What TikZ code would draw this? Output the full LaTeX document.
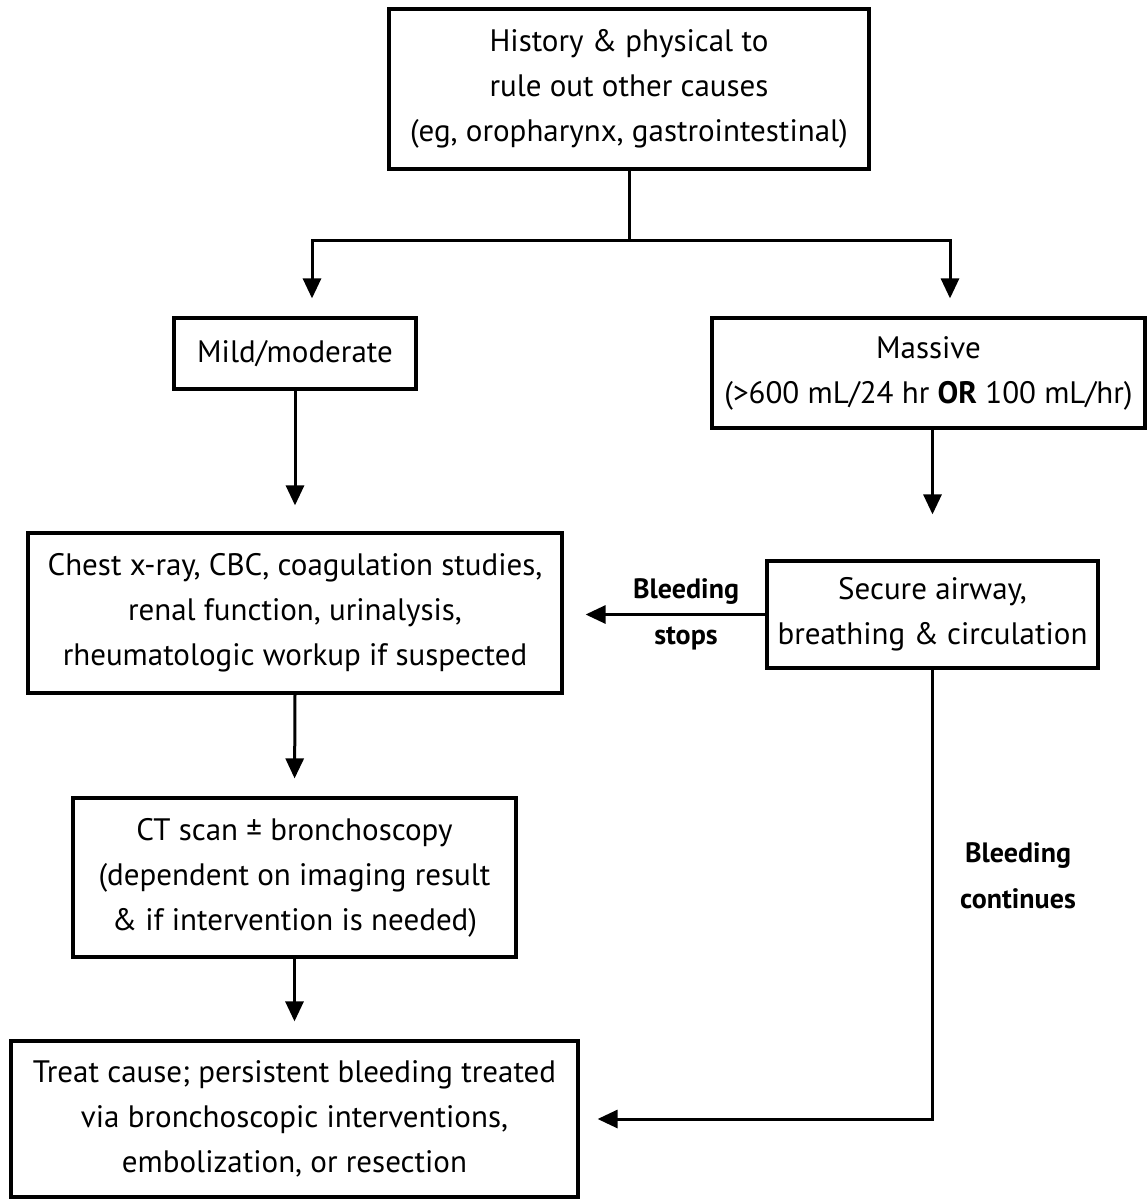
\documentclass[tikz,border=0pt]{standalone}
\usepackage{fontspec}
\setmainfont{PT Sans}
\usetikzlibrary{arrows.meta,calc}
\begin{document}
\begin{tikzpicture}[x=1pt,y=-1pt,
  box/.style={draw=black,line width=3.2pt,rectangle,align=center,inner sep=0pt,
    font=\fontsize{31}{45}\selectfont},
  arr/.style={line width=3pt,-{Triangle[length=20pt,width=18pt]}},
  ln/.style={line width=3pt},
  lbl/.style={align=center,inner sep=0pt,font=\bfseries\fontsize{28}{46}\selectfont}]
\useasboundingbox[fill=white] (0,0) rectangle (1147,1199);
\node[box,minimum width=480pt,minimum height=160pt] (top) at (629,89)
  {History \& physical to\\rule out other causes\\(eg, oropharynx, gastrointestinal)};
\node[box,minimum width=242pt,minimum height=71pt] (mild) at (295,353.5) {Mild/moderate};
\node[box,minimum width=433pt,minimum height=110pt] (massive) at (928.5,373)
  {Massive\\(>600 mL/24 hr \textbf{OR} 100 mL/hr)};
\node[box,minimum width=534pt,minimum height=160pt] (chest) at (295,613)
  {Chest x-ray, CBC, coagulation studies,\\renal function, urinalysis,\\rheumatologic workup if suspected};
\node[box,minimum width=331pt,minimum height=107pt] (secure) at (932.5,614.5)
  {Secure airway,\\breathing \& circulation};
\node[box,minimum width=443pt,minimum height=159pt] (ct) at (294.5,877.5)
  {CT scan ± bronchoscopy\\(dependent on imaging result\\\& if intervention is needed)};
\node[box,minimum width=567pt,minimum height=156pt] (treat) at (294.5,1119)
  {Treat cause; persistent bleeding treated\\via bronchoscopic interventions,\\embolization, or resection};
\node[lbl] (stops) at (686,614) {Bleeding\\stops};
\node[lbl] (cont) at (1018,876) {Bleeding\\continues};
\coordinate (j) at (629,240);
\coordinate (jl) at (312,240);
\coordinate (jr) at (950,240);
\draw[ln] (top.south) -- (j);
\draw[arr,shorten >=18pt] (j) -- (jl) -- (jl |- mild.north);
\draw[arr,shorten >=18pt] (j) -- (jr) -- (jr |- massive.north);
\draw[arr,shorten >=26pt] (mild.south) -- (mild.south |- chest.north);
\draw[arr,shorten >=45pt] (secure.north |- massive.south) -- (secure.north);
\draw[arr,shorten >=22pt] (secure.west) -- (chest.east |- secure.west);
\draw[arr,shorten >=18pt] (chest.south) -- (ct.north);
\draw[arr,shorten >=18pt] (ct.south) -- (treat.north);
\draw[arr,shorten >=18pt] (secure.south) |- (treat.east);
\end{tikzpicture}
\end{document}
